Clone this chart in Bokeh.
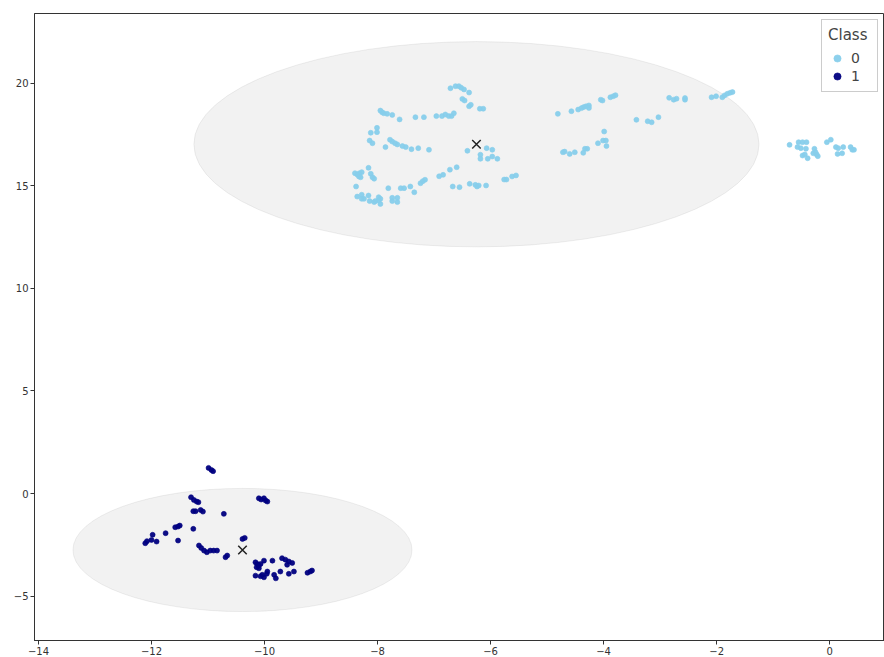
from bokeh.plotting import figure
from bokeh.models import FixedTicker, CustomJSTickFormatter, ColumnDataSource, Legend, LegendItem
from bokeh.embed import file_html
from bokeh.resources import INLINE

# ---- data ----
class0_x = [-6.71, -6.62, -6.56, -6.52, -6.47, -6.38, -6.50, -6.46, -6.38, -6.35, -6.19, -6.13,
            -7.95, -7.92, -7.89, -7.83, -7.74, -7.61, -7.33, -7.18, -6.96, -6.86, -6.80, -6.74, -6.69, -6.65,
            -8.01, -8.12, -8.01, -8.14, -8.09, -7.86, -7.78, -7.74, -7.69, -7.65, -7.56, -7.50, -7.40, -7.28, -7.09,
            -6.41, -6.18, -6.18, -6.07, -5.97, -6.05, -5.97, -5.88,
            -6.60, -6.72, -6.84, -6.91, -7.16, -7.20, -7.24, -7.35, -7.42, -7.53, -7.59, -7.81, -7.74, -7.74, -7.65, -7.65,
            -8.40, -8.36, -8.32, -8.28, -8.33, -8.30, -8.16, -8.12, -8.09, -8.06, -8.38, -8.36, -8.28, -8.28, -8.24,
            -8.16, -8.14, -8.06, -8.04, -7.98, -7.95, -7.95, -7.98,
            -6.67, -6.55, -6.37, -6.27, -6.24, -6.21, -6.08, -5.76, -5.72, -5.62, -5.55,
            -4.81, -4.57, -4.45, -4.39, -4.35, -4.31, -4.26, -4.26, -4.05, -4.02, -3.88, -3.83, -3.79,
            -3.42, -3.22, -3.15, -3.03, -2.84, -2.76, -2.71, -2.56, -2.56, -2.09, -2.01, -1.90, -1.86, -1.81, -1.76, -1.72,
            -4.72, -4.69, -4.60, -4.51, -4.36, -4.33, -4.29, -4.10, -4.01, -3.96, -3.99, -3.95,
            -0.71, -0.55, -0.48, -0.41, -0.57, -0.51, -0.42, -0.48, -0.44, -0.39, -0.27, -0.29, -0.23, -0.21, -0.25,
            -0.05, 0.02, 0.11, 0.15, 0.14, 0.22, 0.24, 0.37, 0.40, 0.43]
class0_y = [19.75, 19.85, 19.85, 19.77, 19.69, 19.54, 19.23, 19.15, 18.87, 18.94, 18.75, 18.75,
            18.66, 18.58, 18.53, 18.50, 18.45, 18.23, 18.34, 18.34, 18.39, 18.39, 18.47, 18.39, 18.39, 18.53,
            17.82, 17.58, 17.61, 17.20, 17.07, 16.88, 17.24, 17.15, 17.07, 17.01, 16.93, 16.88, 16.78, 16.83, 16.75,
            16.70, 16.51, 16.31, 16.83, 16.75, 16.31, 16.42, 16.31,
            15.90, 15.78, 15.53, 15.46, 15.29, 15.22, 15.12, 14.68, 14.96, 14.88, 14.88, 14.88, 14.41, 14.25, 14.41, 14.20,
            15.61, 15.55, 15.61, 15.66, 15.45, 15.41, 15.87, 15.58, 15.41, 15.34, 14.96, 14.47, 14.56, 14.36, 14.36,
            14.52, 14.25, 14.20, 14.25, 14.44, 14.36, 14.11, 14.28,
            14.96, 14.93, 15.09, 15.04, 14.96, 15.01, 15.01, 15.30, 15.30, 15.45, 15.50,
            18.50, 18.63, 18.71, 18.78, 18.83, 18.87, 18.91, 18.79, 19.19, 19.15, 19.31, 19.36, 19.41,
            18.21, 18.14, 18.09, 18.34, 19.28, 19.19, 19.24, 19.27, 19.19, 19.31, 19.36, 19.31, 19.40, 19.48, 19.53, 19.56,
            16.63, 16.66, 16.55, 16.63, 16.60, 16.80, 16.80, 17.07, 17.20, 17.20, 17.64, 16.93,
            16.99, 17.12, 17.12, 17.12, 16.88, 16.83, 16.80, 16.47, 16.52, 16.34, 16.80, 16.58, 16.52, 16.44, 16.63,
            17.12, 17.24, 16.88, 16.83, 16.55, 16.58, 16.88, 16.88, 16.75, 16.75]

class1_x = [-10.99, -10.94, -10.91,
            -11.30, -11.25, -11.20, -11.17,
            -11.26, -11.22, -11.13, -11.09, -10.72,
            -11.26, -11.58, -11.53, -11.50, -11.75, -11.98, -12.00, -12.08, -12.11, -11.91, -11.53,
            -11.16, -11.12, -11.07, -11.02, -10.96, -10.90, -10.84, -10.66, -10.69,
            -10.39, -10.35,
            -10.10, -10.06, -10.01, -9.98, -9.95,
            -10.16, -10.13, -10.10, -10.07, -10.01, -10.14, -10.10, -10.16, -10.07, -10.04, -10.01, -9.96, -9.95,
            -9.86, -9.83, -9.80, -9.72, -9.69, -9.63, -9.57, -9.51, -9.60, -9.57, -9.48, -9.24, -9.19, -9.16]
class1_y = [1.25, 1.15, 1.09,
            -0.18, -0.31, -0.39, -0.42,
            -0.86, -0.86, -0.80, -0.88, -0.99,
            -1.72, -1.64, -1.61, -1.56, -1.93, -2.01, -2.26, -2.32, -2.42, -2.34, -2.29,
            -2.53, -2.65, -2.78, -2.86, -2.78, -2.78, -2.78, -3.02, -3.10,
            -2.21, -2.16,
            -0.23, -0.29, -0.23, -0.34, -0.39,
            -3.35, -3.43, -3.51, -3.43, -3.27, -3.59, -3.64, -4.00, -4.03, -3.96, -4.08, -3.91, -3.80,
            -3.27, -3.96, -4.13, -3.80, -3.15, -3.22, -3.31, -3.38, -3.47, -3.91, -3.80, -3.86, -3.80, -3.75]

centroid_x = [-6.25, -10.39]
centroid_y = [17.02, -2.75]
ellipse_w = [10.0, 6.0]
ellipse_h = [10.0, 6.0]

class_labels = ["0", "1"]
class_colors = ["#87CEEB", "#000080"]

x_ticks = [-14, -12, -10, -8, -6, -4, -2, 0]
y_ticks = [-5, 0, 5, 10, 15, 20]

# ---- figure ----
p = figure(width=884, height=657, output_backend="svg", toolbar_location=None,
           x_range=(-14.07, 0.97), y_range=(-7.16, 23.39),
           min_border_left=34, min_border_top=13, min_border_right=0, min_border_bottom=17)
p.background_fill_color = "white"
p.border_fill_color = "white"
p.outline_line_color = "#333333"
p.outline_line_width = 1
p.xgrid.visible = False
p.ygrid.visible = False

fmt = CustomJSTickFormatter(code="return tick < 0 ? '\u2212' + Math.abs(tick) : String(tick);")
for ax, ticks in ((p.xaxis[0], x_ticks), (p.yaxis[0], y_ticks)):
    ax.ticker = FixedTicker(ticks=ticks)
    ax.formatter = fmt
    ax.axis_line_color = "#333333"
    ax.major_tick_line_color = "#333333"
    ax.major_tick_out = 4
    ax.major_tick_in = 0
    ax.minor_tick_line_color = None
    ax.major_label_text_font = "DejaVu Sans"
    ax.major_label_text_font_size = "10px"
    ax.major_label_text_color = "#333333"
    ax.major_label_standoff = 2

ell_src = ColumnDataSource(dict(x=centroid_x, y=centroid_y, w=ellipse_w, h=ellipse_h))
p.ellipse(x="x", y="y", width="w", height="h", source=ell_src,
          fill_color="#808080", fill_alpha=0.1, line_color="#808080", line_alpha=0.12, line_width=1)

r0 = p.scatter(class0_x, class0_y, size=5, marker="circle",
               fill_color=class_colors[0], line_color=class_colors[0], line_alpha=0.6, fill_alpha=0.95)
r1 = p.scatter(class1_x, class1_y, size=5, marker="circle",
               fill_color=class_colors[1], line_color=class_colors[1], line_alpha=0.6, fill_alpha=0.95)

p.scatter(centroid_x, centroid_y, marker="x", size=12, line_color="#222222", line_width=1.5)

legend = Legend(items=[LegendItem(label=class_labels[0], renderers=[r0]),
                       LegendItem(label=class_labels[1], renderers=[r1])],
                location="top_right", title="Class")
legend.title_text_font = "DejaVu Sans"
legend.title_text_font_size = "15px"
legend.title_text_font_style = "normal"
legend.label_text_font = "DejaVu Sans"
legend.label_text_font_size = "14px"
legend.border_line_color = "#cccccc"
legend.border_line_alpha = 1
legend.background_fill_alpha = 0.8
legend.margin = 6
legend.padding = 6
legend.spacing = 0
legend.glyph_width = 18
legend.glyph_height = 18
legend.label_height = 18
p.add_layout(legend)

open("out.html", "w").write(file_html(p, INLINE))
